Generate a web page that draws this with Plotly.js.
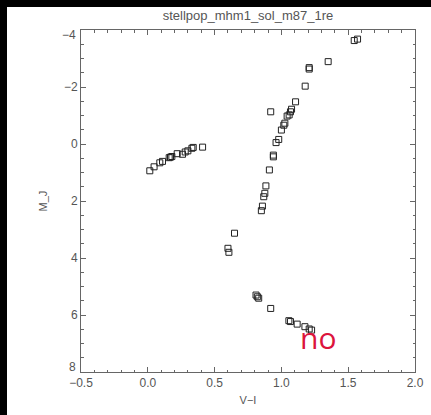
<!DOCTYPE html>
<html>
<head>
<meta charset="utf-8">
<script src="https://cdn.plot.ly/plotly-3.0.1.min.js"></script>
<style>
html,body{margin:0;padding:0;background:#000;width:431px;height:415px;overflow:hidden;}
#chart{position:absolute;left:7px;top:7px;width:424px;height:408px;background:#fff;}
</style>
</head>
<body>
<div id="chart"></div>
<script>
// V-I colour and M_J magnitude of the stellar population points
const vMinusI = [
  0.015, 0.047, 0.09, 0.11, 0.16, 0.17, 0.18, 0.22, 0.26, 0.28, 0.30, 0.33, 0.34, 0.41,
  0.60, 0.607, 0.649,
  0.85, 0.858, 0.868, 0.876, 0.884,
  0.91, 0.94, 0.94, 0.96, 0.98, 1.0, 1.018, 1.026, 1.043, 1.058, 1.068, 1.076, 1.106, 0.92,
  1.178, 1.208, 1.208, 1.35, 1.545, 1.57,
  0.81, 0.82, 0.83, 0.92, 1.056, 1.068, 1.118, 1.176, 1.208, 1.226
];
const mJ = [
  0.94, 0.80, 0.66, 0.61, 0.48, 0.46, 0.44, 0.34, 0.36, 0.28, 0.24, 0.15, 0.12, 0.11,
  3.66, 3.80, 3.13,
  2.34, 2.18, 1.85, 1.73, 1.47,
  0.91, 0.45, 0.39, -0.05, -0.16, -0.49, -0.66, -0.73, -0.98, -1.02, -1.13, -1.22, -1.48, -1.13,
  -2.03, -2.68, -2.63, -2.89, -3.63, -3.68,
  5.30, 5.36, 5.41, 5.77, 6.20, 6.23, 6.32, 6.41, 6.49, 6.53
];
const chartTitle = 'stellpop_mhm1_sol_m87_1re';
const xLabel = 'V\u2212I';
const yLabel = 'M_J';
const noteText = 'no';
const yTickVals = [-4, -2, 0, 2, 4, 6, 8];
const yTickText = ['\u22124', '\u22122', '0', '2', '4', '6', '8'];

const axisColor = '#666';
const textColor = '#555';
const fontFam = '"Liberation Sans", Arial, Helvetica, sans-serif';

const trace = {
  x: vMinusI, y: mJ, type: 'scatter', mode: 'markers',
  marker: {symbol: 'square-open', size: 6, color: '#222', line: {width: 1, color: '#222'}},
  hoverinfo: 'x+y'
};

// end labels of the y axis are nudged inward (as IDL draws them); inner labels drawn by the axis
const innerText = yTickText.map((t, i) => (i === 0 || i === yTickText.length - 1) ? '' : t);
const endAnnots = [0, yTickVals.length - 1].map(i => ({
  text: yTickText[i], xref: 'paper', yref: 'y', x: 0, y: yTickVals[i],
  xanchor: 'right', yanchor: 'middle', xshift: -3, yshift: i === 0 ? -5 : 5,
  showarrow: false, font: {size: 12, color: textColor, family: fontFam}
}));

const layout = {
  width: 424, height: 408,
  margin: {l: 74, r: 16, t: 23, b: 43, pad: 0},
  paper_bgcolor: '#fff', plot_bgcolor: '#fff',
  showlegend: false,
  font: {family: fontFam, color: textColor, size: 12},
  title: {text: chartTitle, x: 0.5, xanchor: 'center', xref: 'paper', y: 1, yref: 'container', yanchor: 'top', pad: {t: 4}, font: {size: 13, color: textColor, family: fontFam}},
  xaxis: {
    range: [-0.5, 2.0], dtick: 0.5, tick0: -0.5, tickformat: '.1f',
    ticks: 'inside', ticklen: 5, tickwidth: 1, tickcolor: axisColor,
    minor: {dtick: 0.1, ticks: 'inside', ticklen: 2.5, tickcolor: axisColor, showgrid: false},
    showline: true, linecolor: axisColor, linewidth: 1, mirror: 'ticks',
    showgrid: false, zeroline: false,
    tickfont: {size: 12, color: textColor},
    title: {text: xLabel, font: {size: 11, color: textColor}, standoff: 6}
  },
  yaxis: {
    range: [8, -4], tickmode: 'array', tickvals: yTickVals, ticktext: innerText,
    ticks: 'inside', ticklen: 5, tickwidth: 1, tickcolor: axisColor,
    minor: {dtick: 0.5, tick0: 0, ticks: 'inside', ticklen: 2.5, tickcolor: axisColor, showgrid: false},
    showline: true, linecolor: axisColor, linewidth: 1, mirror: 'ticks',
    showgrid: false, zeroline: false,
    tickfont: {size: 12, color: textColor},
    title: {text: yLabel, font: {size: 11, color: textColor}, standoff: 14}
  },
  annotations: endAnnots.concat([{
    text: noteText, xref: 'paper', yref: 'paper', x: 0.709, y: 0.102,
    xanchor: 'center', yanchor: 'middle', showarrow: false,
    font: {family: '"Open Sans", "Noto Sans", sans-serif', size: 30, color: '#DC143C'}
  }])
};

Plotly.newPlot('chart', [trace], layout, {displayModeBar: false, staticPlot: true});
</script>
</body>
</html>
